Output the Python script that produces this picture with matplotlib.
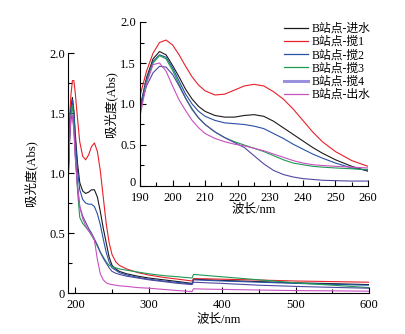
import numpy as np
import matplotlib
matplotlib.use('Agg')
import matplotlib.pyplot as plt
from matplotlib.ticker import MultipleLocator
from matplotlib.lines import Line2D
from matplotlib.transforms import ScaledTranslation

plt.rcParams['font.family'] = ['Liberation Serif', 'Noto Sans CJK SC']
plt.rcParams['font.size'] = 9

# series names and colours
names = ['B站点-进水', 'B站点-搅1', 'B站点-搅2', 'B站点-搅3', 'B站点-搅4', 'B站点-出水']
colours = ['#1a1a1a', '#e8202a', '#2850a8', '#1f9a55', '#4f48a0', '#c850c0']

# main chart: full spectrum 190-600 nm (step at 360 nm from lamp change)
wl_main = [190, 192, 194, 196, 198, 200, 203, 206, 210, 214, 218, 222, 226, 230, 234, 238,
           242, 246, 250, 255, 260, 270, 285, 300, 320, 340, 359, 361, 380, 400, 450, 500,
           550, 600]
jin_main = [0.95, 1.30, 1.55, 1.63, 1.52, 1.32, 1.08, 0.92, 0.85, 0.83, 0.84, 0.86, 0.86, 0.80,
            0.68, 0.54, 0.42, 0.30, 0.23, 0.20, 0.18, 0.16, 0.14, 0.125, 0.11, 0.095, 0.08,
            0.115, 0.11, 0.105, 0.095, 0.085, 0.078, 0.07]
jiao1_main = [1.10, 1.45, 1.65, 1.77, 1.77, 1.66, 1.45, 1.26, 1.14, 1.11, 1.15, 1.22, 1.25, 1.18,
              1.02, 0.80, 0.58, 0.42, 0.32, 0.26, 0.23, 0.20, 0.17, 0.15, 0.13, 0.115, 0.10,
              0.12, 0.118, 0.115, 0.108, 0.10, 0.095, 0.09]
jiao2_main = [0.95, 1.30, 1.53, 1.61, 1.50, 1.28, 1.02, 0.86, 0.78, 0.75, 0.74, 0.74, 0.72, 0.66,
              0.57, 0.45, 0.34, 0.26, 0.21, 0.19, 0.17, 0.15, 0.13, 0.115, 0.10, 0.088, 0.075,
              0.11, 0.105, 0.10, 0.09, 0.08, 0.072, 0.065]
jiao3_main = [0.90, 1.25, 1.48, 1.56, 1.42, 1.15, 0.85, 0.63, 0.58, 0.55, 0.52, 0.48, 0.44, 0.39,
              0.34, 0.30, 0.26, 0.23, 0.22, 0.21, 0.20, 0.19, 0.175, 0.16, 0.145, 0.135, 0.125,
              0.155, 0.145, 0.135, 0.11, 0.085, 0.065, 0.045]
jiao4_main = [0.90, 1.25, 1.45, 1.48, 1.38, 1.15, 0.90, 0.72, 0.64, 0.59, 0.54, 0.50, 0.45, 0.40,
              0.34, 0.29, 0.25, 0.21, 0.18, 0.165, 0.155, 0.14, 0.125, 0.11, 0.095, 0.08, 0.07,
              0.09, 0.085, 0.08, 0.065, 0.055, 0.047, 0.04]
chu_main = [0.85, 1.25, 1.48, 1.48, 1.35, 1.12, 0.88, 0.72, 0.62, 0.56, 0.52, 0.49, 0.44, 0.28,
            0.16, 0.11, 0.085, 0.075, 0.07, 0.065, 0.06, 0.055, 0.045, 0.04, 0.03, 0.02, 0.012,
            0.035, 0.032, 0.03, 0.025, 0.02, 0.018, 0.015]

# inset: 190-260 nm
wl_in = [190, 192, 194, 196, 198, 200, 202, 204, 206, 208, 210, 213, 216, 219, 222, 225, 228,
         231, 234, 237, 240, 243, 246, 250, 255, 260]
jin_in = [0.95, 1.32, 1.55, 1.64, 1.60, 1.47, 1.33, 1.18, 1.06, 0.97, 0.91, 0.86, 0.84, 0.84,
          0.86, 0.87, 0.85, 0.79, 0.71, 0.63, 0.55, 0.47, 0.40, 0.32, 0.24, 0.18]
jiao1_in = [1.10, 1.40, 1.62, 1.75, 1.78, 1.72, 1.60, 1.46, 1.33, 1.23, 1.16, 1.11, 1.12, 1.17,
            1.22, 1.24, 1.22, 1.15, 1.06, 0.94, 0.80, 0.66, 0.54, 0.42, 0.31, 0.24]
jiao2_in = [0.95, 1.30, 1.52, 1.60, 1.57, 1.44, 1.28, 1.12, 1.00, 0.91, 0.85, 0.80, 0.77, 0.76,
            0.75, 0.73, 0.70, 0.64, 0.58, 0.51, 0.45, 0.39, 0.34, 0.28, 0.22, 0.19]
jiao3_in = [0.90, 1.27, 1.50, 1.59, 1.55, 1.41, 1.24, 1.07, 0.93, 0.83, 0.75, 0.66, 0.59, 0.54,
            0.50, 0.46, 0.42, 0.37, 0.32, 0.28, 0.26, 0.24, 0.23, 0.22, 0.21, 0.20]
jiao4_in = [0.95, 1.22, 1.38, 1.46, 1.45, 1.36, 1.22, 1.07, 0.94, 0.83, 0.75, 0.66, 0.59, 0.53,
            0.47, 0.37, 0.27, 0.19, 0.14, 0.11, 0.09, 0.08, 0.07, 0.065, 0.06, 0.06]
chu_in = [0.85, 1.25, 1.48, 1.50, 1.40, 1.22, 1.05, 0.92, 0.80, 0.71, 0.64, 0.58, 0.54, 0.51,
          0.49, 0.46, 0.43, 0.39, 0.35, 0.31, 0.28, 0.26, 0.25, 0.24, 0.23, 0.22]

main_series = [jin_main, jiao1_main, jiao2_main, jiao3_main, jiao4_main, chu_main]
inset_series = [jin_in, jiao1_in, jiao2_in, jiao3_in, jiao4_in, chu_in]

yticks = [0, 0.5, 1.0, 1.5, 2.0]
ytick_labels = ['0', '0.5', '1.0', '1.5', '2.0']


def style_axes(ax):
    for s in ['top', 'right']:
        ax.spines[s].set_visible(False)
    for s in ['left', 'bottom']:
        ax.spines[s].set_linewidth(0.8)
    ax.tick_params(which='both', direction='in', width=0.8, labelsize=9, pad=2)
    ax.tick_params(which='major', length=4)
    ax.tick_params(which='minor', length=3)
    ax.yaxis.set_minor_locator(MultipleLocator(0.25))
    ax.set_yticks(yticks)
    ax.set_yticklabels(ytick_labels)


fig = plt.figure(figsize=(4.05, 3.34), dpi=100)

# main axes
ax = fig.add_axes([68/405, 1-293/334, 301/405, 240/334])
for vals, c in zip(main_series, colours):
    ax.plot(wl_main, vals, color=c, lw=0.8)
ax.set_xlim(190, 600)
ax.set_ylim(0, 2.0)
ax.xaxis.set_minor_locator(MultipleLocator(50))
style_axes(ax)
ax.set_xticks([200, 300, 400, 500, 600])
ax.tick_params(axis='x', pad=4)
ax.set_xlabel('波长/nm', fontsize=9, labelpad=2)
ax.set_ylabel('吸光度(Abs)', fontsize=9, labelpad=9)

# inset axes
ins = fig.add_axes([140/405, 1-186/334, 228/405, 164/334])
ins.set_facecolor('white')
for vals, c in zip(inset_series, colours):
    ins.plot(wl_in, vals, color=c, lw=0.8)
ins.set_xlim(190, 260)
ins.set_ylim(0, 2.0)
ins.set_xticks(np.arange(190, 261, 10))
ins.xaxis.set_minor_locator(MultipleLocator(5))
style_axes(ins)
ins.tick_params(axis='x', pad=4)
ins.tick_params(axis='y', pad=3)
ins.set_xlabel('波长/nm', fontsize=9, labelpad=0)
ins.set_ylabel('吸光度(Abs)', fontsize=9, labelpad=2)

# lift the inset's "0" a little so it clears the "190" below it
zero_lbl = ins.yaxis.get_major_ticks()[0].label1
zero_lbl.set_transform(zero_lbl.get_transform() + ScaledTranslation(0, 3/72, fig.dpi_scale_trans))

# legend (搅4 drawn thicker and lighter, as in the figure)
handles = []
for i, (n, c) in enumerate(zip(names, colours)):
    if i == 4:
        handles.append(Line2D([], [], color='#9a92dc', lw=2.2))
    else:
        handles.append(Line2D([], [], color=c, lw=0.9))
fig.legend(handles, names, loc='upper left', bbox_to_anchor=(284/405, 1-23/334),
           frameon=False, fontsize=8.5, handlelength=2.0, handletextpad=0.35,
           labelspacing=0.1, borderpad=0, borderaxespad=0)

plt.savefig('out.png', dpi=100)
